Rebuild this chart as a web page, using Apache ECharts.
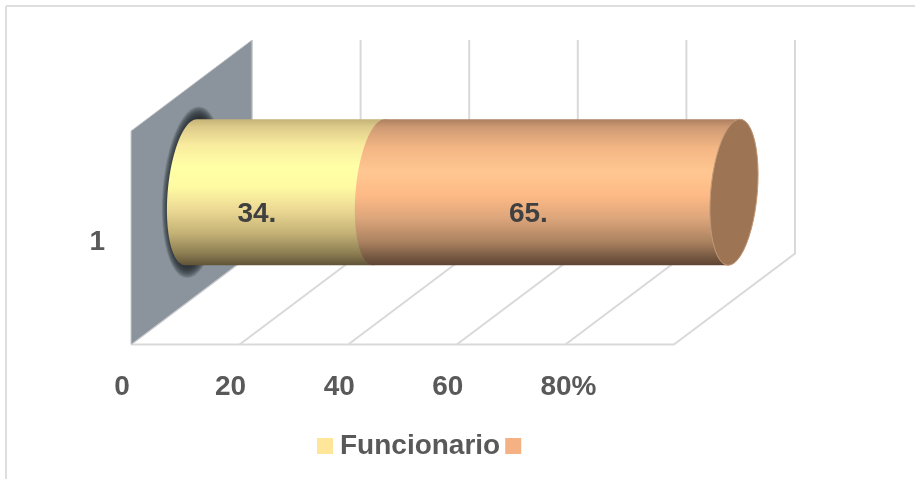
<!DOCTYPE html>
<html><head><meta charset="utf-8">
<style>html,body{margin:0;padding:0;background:#fff}#c{width:915px;height:479px}</style>
<script src="https://cdn.jsdelivr.net/npm/echarts@6/dist/echarts.min.js"></script>
</head><body><div id="c"></div>
<script>
const categories = ['1'];
const seriesNames = ['Funcionario', ' '];
const funcionario = [34.6];
const segundo = [65.4];
const axisTicks = [0, 20, 40, 60, 80, 100];
const tickLabels = ['0', '20', '40', '60', '80%', ''];

const DEPTH = [121, -91];
const FONT = '"Liberation Sans", Arial, sans-serif';
const GRID = '#d9d9d9';
const G = echarts.graphic;

function arc(cx, cy, rx, ry, sk, t0, t1) {
  const out = [];
  for (let i = 0; i <= 48; i++) {
    const t = t0 + (t1 - t0) * i / 48;
    out.push([cx + rx * Math.cos(t) - sk * Math.sin(t), cy + ry * Math.sin(t)]);
  }
  return out;
}
const PI = Math.PI;
const leftArc = (c, cy, g) => arc(c, cy, g.rx, g.ry, g.sk, -PI / 2, -3 * PI / 2);
const rightArc = (c, cy, g) => arc(c, cy, g.rx, g.ry, g.sk, PI / 2, -PI / 2);
function cylGeom(api) {
  const ry = api.size([0, 1])[1] * 0.342;
  return { ry, rx: ry * 0.32, sk: ry * 0.08 };
}
function grad(stops) {
  return new G.LinearGradient(0, 0, 0, 1, stops.map(s => ({ offset: s[0], color: s[1] })));
}
const yellowStops = [[0, '#c4b277'], [0.05, '#dcca8a'], [0.18, '#f9ec9e'], [0.32, '#ffffa6'], [0.46, '#fffba3'], [0.62, '#ecd994'], [0.78, '#c4b276'], [0.92, '#8c7d52'], [1, '#5f5438']];
const orangeStops = [[0, '#ad7f60'], [0.06, '#d09c75'], [0.2, '#f4b684'], [0.36, '#ffc792'], [0.52, '#feba86'], [0.68, '#dca57b'], [0.84, '#ab8260'], [0.94, '#785a43'], [1, '#5f4433']];

function renderFrame(params, api) {
  const v = api.value(0);
  const p = api.coord([v, 0]);
  const bottom = p[1] + api.size([0, 1])[1] / 2;
  const top = bottom - api.size([0, 1])[1];
  const x = p[0];
  const style = { stroke: GRID, lineWidth: 2, fill: null };
  const children = [
    { type: 'polyline', shape: { points: [[x, bottom], [x + DEPTH[0], bottom + DEPTH[1]], [x + DEPTH[0], top + DEPTH[1]]] }, style }
  ];
  return { type: 'group', children };
}
function renderWall(params, api) {
  const p = api.coord([api.value(0), 0]);
  const h = api.size([0, 1])[1];
  const bottom = p[1] + h / 2, top = p[1] - h / 2, x = p[0];
  const q = api.coord([100, 0]);
  const g = cylGeom(api);
  const cx = x + 60, cy = p[1] + DEPTH[1] / 2;
  const children = [
    { type: 'line', shape: { x1: x, y1: bottom, x2: q[0], y2: bottom }, style: { stroke: GRID, lineWidth: 2 } },
    { type: 'polygon', shape: { points: [[x, top], [x + DEPTH[0], top + DEPTH[1]], [x + DEPTH[0], bottom + DEPTH[1]], [x, bottom]] }, style: { fill: '#8b949c', stroke: '#c5c9cd', lineWidth: 1 } }
  ];
  for (let k = 9; k >= 0; k--) {
    children.push({
      type: 'polygon',
      shape: { points: arc(cx + 2, cy, g.rx + k * 0.8, g.ry + 2 + k * 1.2, g.sk, 0, 2 * PI) },
      style: { fill: 'rgba(30,35,40,0.17)' }
    });
  }
  return { type: 'group', children };
}
function renderCyl(kind) {
  return function (params, api) {
    const a = api.coord([api.value(0), 0]);
    const b = api.coord([api.value(1), 0]);
    const g = cylGeom(api);
    const cy = a[1] + DEPTH[1] / 2;
    const x0 = a[0] + 60, x1 = b[0] + 60;
    const children = [{
      type: 'polygon',
      shape: { points: leftArc(x0, cy, g).concat(rightArc(x1, cy, g)) },
      style: { fill: grad(kind === 0 ? yellowStops : orangeStops) }
    }];
    if (kind === 1) {
      children.push({
        type: 'polygon',
        shape: { points: arc(x1, cy, g.rx, g.ry, g.sk, 0, 2 * PI) },
        style: { fill: '#9d7555', stroke: '#c39a78', lineWidth: 1 }
      });
    }
    children.push({
      type: 'text',
      style: {
        text: Math.floor(api.value(1) - api.value(0)) + '.',
        x: (x0 + x1) / 2 - 28, y: cy + 22,
        align: 'center', verticalAlign: 'middle',
        font: 'bold 28px ' + FONT, fill: '#404040'
      },
      z2: 20
    });
    return { type: 'group', children };
  };
}

const chart = echarts.init(document.getElementById('c'), null, { renderer: 'canvas' });
chart.setOption({
  animation: false,
  backgroundColor: '#fff',
  grid: { left: 131, top: 131, width: 543, height: 213.5, containLabel: false },
  graphic: [
    { type: 'line', shape: { x1: 6, y1: 6, x2: 915, y2: 6 }, style: { stroke: '#dedede', lineWidth: 2 } },
    { type: 'line', shape: { x1: 6, y1: 6, x2: 6, y2: 479 }, style: { stroke: '#dedede', lineWidth: 2 } }
  ],
  legend: {
    left: 312, top: 427, icon: 'rect', itemWidth: 16, itemHeight: 16, itemGap: 5,
    textStyle: { fontFamily: FONT, fontWeight: 'bold', fontSize: 28, color: '#595959', padding: [0, 0, 0, 2] },
    selectedMode: false,
    data: [
      { name: seriesNames[0], itemStyle: { color: '#ffe699' } },
      { name: seriesNames[1], itemStyle: { color: '#f4b183' } }
    ]
  },
  xAxis: {
    type: 'value', min: 0, max: 100, interval: 20,
    axisLine: { show: false }, axisTick: { show: false }, splitLine: { show: false },
    axisLabel: {
      margin: 29,
      formatter: function (v) {
        const t = tickLabels[axisTicks.indexOf(v)];
        return t === '' ? '' : (t.indexOf('%') >= 0 ? '{p|' + t + '}' : '{n|' + t + '}');
      },
      rich: {
        n: { fontFamily: FONT, fontWeight: 'bold', fontSize: 28, color: '#595959', padding: [0, 18, 0, 0] },
        p: { fontFamily: FONT, fontWeight: 'bold', fontSize: 28, color: '#595959', padding: [0, 0, 0, 6] }
      }
    }
  },
  yAxis: {
    type: 'category', data: categories,
    axisLine: { show: false }, axisTick: { show: false }, splitLine: { show: false },
    axisLabel: {
      margin: 26,
      formatter: '{c|{value}}',
      rich: { c: { fontFamily: FONT, fontWeight: 'bold', fontSize: 28, color: '#595959', padding: [10, 0, 0, 0] } }
    }
  },
  series: [
    { type: 'custom', name: 'grid', coordinateSystem: 'cartesian2d', renderItem: renderFrame, silent: true, z: 1, encode: { x: 0, y: 1 },
      data: axisTicks.map(t => [t, 0]) },
    { type: 'custom', name: 'wall', coordinateSystem: 'cartesian2d', renderItem: renderWall, silent: true, z: 2, encode: { x: 0, y: 1 },
      data: [[0, 0]] },
    { type: 'custom', name: seriesNames[0], coordinateSystem: 'cartesian2d', renderItem: renderCyl(0), silent: true, z: 3, encode: { x: [0, 1], y: 2 },
      itemStyle: { color: '#ffe699' },
      data: categories.map((c, i) => [0, funcionario[i], i]) },
    { type: 'custom', name: seriesNames[1], coordinateSystem: 'cartesian2d', renderItem: renderCyl(1), silent: true, z: 4, encode: { x: [0, 1], y: 2 },
      itemStyle: { color: '#f4b183' },
      data: categories.map((c, i) => [funcionario[i], funcionario[i] + segundo[i], i]) }
  ]
});
</script></body></html>
